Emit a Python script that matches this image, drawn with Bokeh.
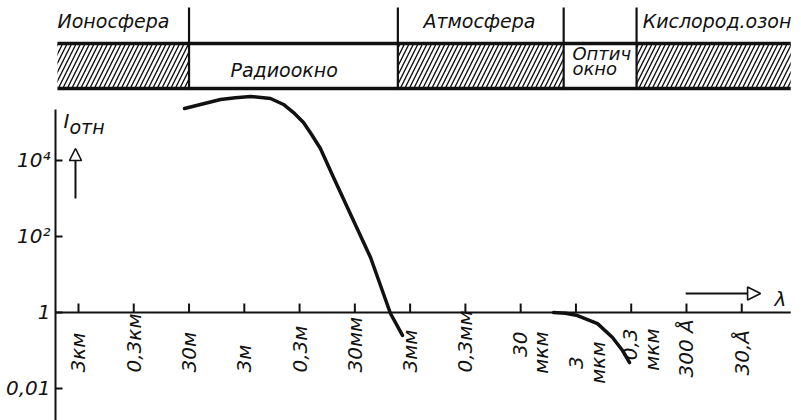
import math
from bokeh.plotting import figure
from bokeh.models import Range1d, FixedTicker, ColumnDataSource, Arrow, NormalHead, LabelSet
from bokeh.embed import file_html
from bokeh.resources import INLINE
from bokeh.core.properties import value

# ---------------- data ----------------
# wavelength axis ticks (metres) and their labels
tick_lambda = [3e3, 3e2, 3e1, 3e0, 3e-1, 3e-2, 3e-3, 3e-4, 3e-5, 3e-6, 3e-7, 3e-8, 3e-9]
tick_labels = ["3км", "0,3км", "30м", "3м", "0,3м", "30мм", "3мм", "0,3мм",
               "30\nмкм", "3\nмкм", "0,3\nмкм", "300 Å", "30,Å"]

# relative intensity axis
y_ticks = [1e-2, 1.0, 1e2, 1e4]
y_tick_labels = ["0,01", "1", "10²", "10⁴"]

# radio-range curve (wavelength m, relative intensity)
radio_lambda = [36.2, 8.09, 4.33, 2.32, 1.007, 0.586, 0.386, 0.255, 0.182, 0.126, 0.0729, 0.0156, 6.8e-3, 4.12e-3]
radio_I = [2.33e5, 4.03e5, 4.5e5, 4.83e5, 4.28e5, 2.98e5, 1.83e5, 1.0e5, 4.83e4, 2.07e4, 3.57e3, 28, 0.94, 0.25]

# optical-range curve
opt_lambda = [7.64e-6, 4.64e-6, 2.81e-6, 1.22e-6, 6.54e-7, 4.31e-7, 3.21e-7]
opt_I = [1.0, 0.96, 0.83, 0.51, 0.22, 0.10, 0.048]

# transparency zones of the atmosphere (wavelength bounds, m)
opaque_left = [7.2e3, 5e-3, 2.4e-7]
opaque_right = [30.0, 5e-6, 3.9e-10]
zone_bounds = [30.0, 5e-3, 5e-6, 2.4e-7]
zone_names = ["Ионосфера", "Атмосфера", "Кислород.озон"]
window_names = ["Радиоокно", "Оптич", "окно"]

# ---------------- layout (positions in data units) ----------------
X_START, X_END = 7818.0, 2.49e-10
Y_START, Y_END = 1.438e-3, 1.624e8
X_AXIS_END = 3.9e-10
TICK_TOP = 1.72
Y_AXIS_TOP = 2.2e5
BAND_TOP, BAND_BOTTOM = 1.2e7, 7.9e5
DIVIDER_TOP = 1.06e8

FONT = "DejaVu Sans"
INK = "#111111"

p = figure(width=801, height=420, x_axis_type="log", y_axis_type="log",
           x_range=Range1d(X_START, X_END), y_range=Range1d(Y_START, Y_END),
           output_backend="svg", toolbar_location=None, x_axis_location=None,
           min_border_left=55, min_border_right=0, min_border_top=0, min_border_bottom=0)
p.outline_line_color = None
p.grid.visible = False
p.background_fill_color = "white"

# y axis (real axis, ticks pointing inward)
ya = p.yaxis[0]
ya.ticker = FixedTicker(ticks=y_ticks)
ya.major_label_overrides = {t: l for t, l in zip(y_ticks, y_tick_labels)}
ya.minor_tick_line_color = None
ya.major_tick_in = 7
ya.major_tick_out = 0
ya.axis_line_width = 2
ya.axis_line_color = INK
ya.major_tick_line_width = 2
ya.major_tick_line_color = INK
ya.major_label_text_font = FONT
ya.major_label_text_font_style = "italic"
ya.major_label_text_font_size = "20px"
ya.major_label_text_color = INK
ya.major_label_standoff = 5
ya.bounds = (Y_START, Y_AXIS_TOP)

# x axis drawn at I = 1
p.line(x=[X_START, X_AXIS_END], y=[1, 1], line_width=2, color=INK)
p.segment(x0=tick_lambda, y0=1, x1=tick_lambda, y1=TICK_TOP, line_width=2, color=INK)

# curves
p.line(radio_lambda, radio_I, line_width=3.5, color=INK, line_cap="round", line_join="round")
p.line(opt_lambda, opt_I, line_width=3.5, color=INK, line_cap="round", line_join="round")

# x tick labels
txt = dict(angle=math.pi / 2, text_font=value(FONT), text_font_style="italic",
           text_font_size="20px", text_color=INK)
single_idx = [0, 1, 2, 3, 4, 5, 6, 7, 11, 12]
single_y = [0.0264] * 8 + [0.0195, 0.022]
p.text(x=[tick_lambda[i] for i in single_idx], y=single_y,
       text=[tick_labels[i] for i in single_idx],
       text_align="left", text_baseline="middle", **txt)
p.text(x=[tick_lambda[8], tick_lambda[10]], y=[0.316, 0.38],
       text=[tick_labels[8], tick_labels[10]], x_offset=10,
       text_align="right", text_baseline="middle", text_line_height=0.9, **txt)
p.text(x=[tick_lambda[9]], y=[0.048], text=[tick_labels[9]], x_offset=11,
       text_align="center", text_baseline="middle", text_line_height=0.9, **txt)

# header band
p.quad(left=opaque_left, right=opaque_right, bottom=BAND_BOTTOM, top=BAND_TOP,
       fill_color=None, line_color=None, hatch_pattern="/", hatch_color=INK,
       hatch_scale=9, hatch_weight=1.4)
p.segment(x0=[7.2e3, 7.2e3], x1=[3.9e-10, 3.9e-10], y0=[BAND_TOP, BAND_BOTTOM],
          y1=[BAND_TOP, BAND_BOTTOM], line_width=3.5, color=INK)
p.segment(x0=zone_bounds, x1=zone_bounds, y0=BAND_BOTTOM, y1=DIVIDER_TOP, line_width=2.2, color=INK)

label_style = dict(text_font=value(FONT), text_font_style="italic", text_color=INK,
                   text_baseline="alphabetic")
hdr = ColumnDataSource(dict(x=[698.0, 1.67e-4, 8.4e-9], y=[3e7, 3e7, 3e7], t=zone_names))
p.add_layout(LabelSet(x="x", y="y", text="t", source=hdr, text_align="center",
                      text_font_size="19px", **label_style))
win_big = ColumnDataSource(dict(x=[5.33], y=[1.62e6], t=window_names[:1]))
p.add_layout(LabelSet(x="x", y="y", text="t", source=win_big, text_align="left",
                      text_font_size="19px", **label_style))
win_small = ColumnDataSource(dict(x=[3.47e-6, 3.47e-6], y=[4.4e6, 1.75e6], t=window_names[1:]))
p.add_layout(LabelSet(x="x", y="y", text="t", source=win_small, text_align="left",
                      text_font_size="18px", **label_style))

# axis titles and direction arrows
p.text(x=[5600.0], y=[1.12e5], text=["I"], text_font=value(FONT), text_font_style="italic",
       text_font_size="20px", text_color=INK, text_align="left", text_baseline="alphabetic")
p.text(x=[4364.0], y=[7.4e4], text=["отн"], text_font=value(FONT), text_font_style="italic",
       text_font_size="19px", text_color=INK, text_align="left", text_baseline="alphabetic")
p.text(x=[5.99e-10], y=[2.2], text=["λ"], text_font=value(FONT), text_font_style="italic",
       text_font_size="20px", text_color=INK, text_align="center", text_baseline="middle")

p.add_layout(Arrow(end=NormalHead(size=12, fill_color="white", line_color=INK, line_width=1.6),
                   x_start=3400.0, y_start=1e3, x_end=3400.0, y_end=2.07e4,
                   line_width=2, line_color=INK))
p.add_layout(Arrow(end=NormalHead(size=13, fill_color="white", line_color=INK, line_width=1.6),
                   x_start=3.1e-8, y_start=3.16, x_end=1.37e-9, y_end=3.16,
                   line_width=2, line_color=INK))

open("out.html", "w").write(file_html(p, INLINE))
